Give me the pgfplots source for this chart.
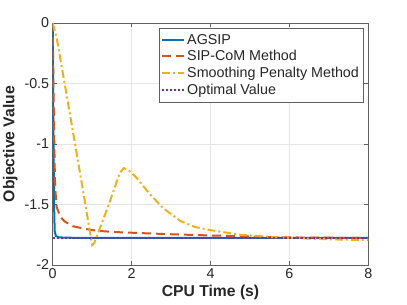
\documentclass[border=0pt]{standalone}
\usepackage{pgfplots}
\pgfplotsset{compat=1.18}
\usepackage{fontspec}
\setmainfont{Liberation Sans}
\definecolor{c1}{rgb}{0,0.447,0.741}
\definecolor{c2}{rgb}{0.85,0.325,0.098}
\definecolor{c3}{rgb}{0.929,0.694,0.125}
\definecolor{c4}{rgb}{0.494,0.184,0.556}
\definecolor{tx}{rgb}{0.15,0.15,0.15}
\begin{document}
\begin{tikzpicture}
\useasboundingbox (-52.7pt,-40pt) rectangle (354.3pt,265pt);
\begin{axis}[
  at={(0,0)}, anchor=south west,
  scale only axis, width=315.6pt, height=242pt,
  xmin=0, xmax=8, ymin=-2, ymax=0,
  xtick={0,2,4,6,8}, ytick={-2,-1.5,-1,-0.5,0},
  yticklabels={-2,-1.5,-1,-0.5,0},
  grid=major, major grid style={gray!20, line width=0.5pt},
  axis line style={gray!75!black, line width=0.6pt},
  tick style={gray!75!black, line width=0.6pt},
  tick align=inside, major tick length=4pt,
  ticklabel style={font=\fontsize{14.3}{16}\selectfont, text=tx},
  /pgf/number format/assume math mode=true,
  xlabel={\bfseries CPU Time (s)}, ylabel={\bfseries Objective Value},
  label style={font=\fontsize{15.7}{18}\selectfont, text=tx},
  legend style={font=\fontsize{14.3}{16}\selectfont, text=tx, at={(0.983,0.979)}, anchor=north east,
    draw=gray!75!black, line width=0.6pt, inner xsep=2pt, inner ysep=4pt, row sep=1pt, outer sep=0pt},
  legend cell align=left,
  legend image code/.code={\draw[#1, line width=2pt] (0pt,0pt) -- (22pt,0pt);},
  clip=true,
]
\addplot[c1, line width=2pt] coordinates {(0,0) (0.01,-0.5) (0.02,-1.0) (0.035,-1.5) (0.05,-1.72) (0.08,-1.76) (0.15,-1.772) (0.5,-1.775) (8,-1.776)};
\addlegendentry{AGSIP}
\addplot[c2, line width=2pt, dash pattern=on 9pt off 5pt] coordinates {(0,0) (0.03,-0.8) (0.06,-1.35) (0.1,-1.52) (0.19,-1.6) (0.3,-1.64) (0.52,-1.68) (0.8,-1.70) (1.11,-1.717) (1.6,-1.728) (2.2,-1.736) (3,-1.746) (3.9,-1.755) (4.8,-1.763) (5.6,-1.77) (6.5,-1.774) (8,-1.776)};
\addlegendentry{SIP-CoM Method}
\addplot[c3, line width=2pt, dash pattern=on 8pt off 3pt on 2pt off 3pt] coordinates {(0,0) (0.1,-0.12) (0.43,-0.74) (0.75,-1.35) (1.0,-1.835) (1.05,-1.82) (1.4,-1.52) (1.7,-1.24) (1.8,-1.2) (1.9,-1.21) (2.1,-1.27) (2.47,-1.417) (2.8,-1.53) (3.23,-1.635) (3.6,-1.685) (4.0,-1.712) (4.75,-1.75) (5.6,-1.77) (6.5,-1.782) (7.3,-1.79) (8,-1.794)};
\addlegendentry{Smoothing Penalty Method}
\addplot[c4, line width=2pt, dash pattern=on 2pt off 2pt] coordinates {(0,-1.777) (8,-1.777)};
\addlegendentry{Optimal Value}
\end{axis}
\end{tikzpicture}
\end{document}
